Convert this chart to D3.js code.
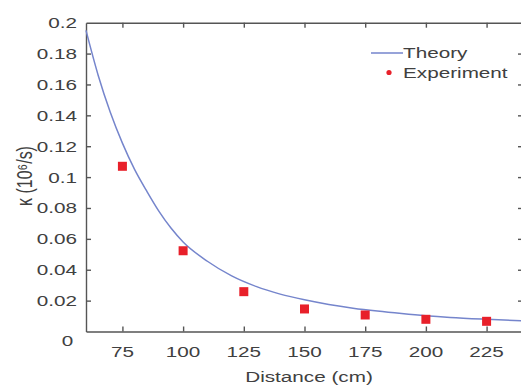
<!DOCTYPE html>
<html>
<head>
<meta charset="utf-8">
<script src="https://cdn.jsdelivr.net/npm/d3@7"></script>
<style>
  html, body { margin: 0; padding: 0; background: #fff; }
  svg { display: block; font-family: "Liberation Sans", Arial, sans-serif; }
</style>
</head>
<body>
<svg id="chart" width="521" height="388"></svg>
<script>
// experiment points
const distances = [75, 100, 125, 150, 175, 200, 225];
const kappaExp = [0.107, 0.0523, 0.0258, 0.0146, 0.0107, 0.0079, 0.0066];
// theory curve
const theoryX = [60, 65, 70, 75, 80, 85, 90, 95, 100, 110, 120, 130, 140, 150, 160, 170, 180, 190, 200, 210, 225, 240];
const theoryY = [0.195, 0.166, 0.142, 0.122, 0.105, 0.091, 0.078, 0.067, 0.058, 0.0455, 0.036, 0.0292, 0.0242, 0.0205, 0.0175, 0.0151, 0.0132, 0.0116, 0.0102, 0.0091, 0.0079, 0.0069];
const xTicks = [75, 100, 125, 150, 175, 200, 225];
const xTickLabels = ["75", "100", "125", "150", "175", "200", "225"];
const yTicks = [0, 0.02, 0.04, 0.06, 0.08, 0.1, 0.12, 0.14, 0.16, 0.18, 0.2];
const yTickLabels = ["0", "0.02", "0.04", "0.06", "0.08", "0.1", "0.12", "0.14", "0.16", "0.18", "0.2"];
const legendLabels = ["Theory", "Experiment"];

const SX = 1.38;           // picture is stretched sideways
const AXIS = "#555", TXT = "#404040", BLUE = "#7585cc", RED = "#e8202a";

const svg = d3.select("#chart");
const x = d3.scaleLinear().domain([60, 240]).range([86, 523]);
const y = d3.scaleLinear().domain([0, 0.2]).range([331.5, 22.7]);

function styleAxis(g) {
  g.selectAll("path, line").attr("stroke", AXIS).attr("stroke-width", 1.4);
  g.selectAll("text").remove();
}
svg.append("g").attr("transform", `translate(0,${y(0)})`)
  .call(d3.axisBottom(x).tickValues(xTicks).tickSize(-5).tickSizeOuter(0)).call(styleAxis);
svg.append("g").attr("transform", `translate(0,${y(0.2)})`)
  .call(d3.axisTop(x).tickValues(xTicks).tickSize(-5).tickSizeOuter(0)).call(styleAxis);
svg.append("g").attr("transform", `translate(${x(60)},0)`)
  .call(d3.axisLeft(y).tickValues(yTicks.slice(1, -1)).tickSize(-5).tickSizeOuter(0)).call(styleAxis);
svg.append("g").attr("transform", `translate(${x(240)},0)`)
  .call(d3.axisRight(y).tickValues(yTicks.slice(1, -1)).tickSize(-5).tickSizeOuter(0)).call(styleAxis);

function label(px, py, str, anchor, size) {
  return svg.append("g").attr("transform", `translate(${px},${py}) scale(${SX},1)`)
    .append("text").attr("text-anchor", anchor).attr("dy", "0.36em")
    .attr("font-size", size || 15).attr("fill", TXT).text(str);
}
xTicks.forEach((v, i) => label(x(v), 352, xTickLabels[i], "middle"));
yTicks.forEach((v, i) => {
  if (v === 0) label(67.5, 341, yTickLabels[i], "middle");
  else label(77, y(v), yTickLabels[i], "end");
});
label(309, 377, "Distance (cm)", "middle");

svg.append("g").attr("transform", `translate(24,176) scale(${SX},1) rotate(-90)`)
  .append("text").attr("text-anchor", "middle").attr("dy", "0.36em")
  .attr("font-size", 16).attr("fill", TXT).text("κ (10⁶/s)");

// theory curve
const line = d3.line().x((d, i) => x(theoryX[i])).y(d => y(d)).curve(d3.curveMonotoneX);
svg.append("path").datum(theoryY).attr("d", line)
  .attr("fill", "none").attr("stroke", BLUE).attr("stroke-width", 1.5);

// experiment markers
svg.append("g").selectAll("rect").data(distances).join("rect")
  .attr("x", d => x(d) - 4.5).attr("y", (d, i) => y(kappaExp[i]) - 4.5)
  .attr("width", 9).attr("height", 9).attr("fill", RED);

// legend
svg.append("line").attr("x1", 371).attr("x2", 403).attr("y1", 53).attr("y2", 53)
  .attr("stroke", BLUE).attr("stroke-width", 1.5);
label(403, 53, legendLabels[0], "start");
svg.append("circle").attr("cx", 389).attr("cy", 72.5).attr("r", 2.6).attr("fill", RED);
label(403, 72.5, legendLabels[1], "start");
</script>
</body>
</html>
